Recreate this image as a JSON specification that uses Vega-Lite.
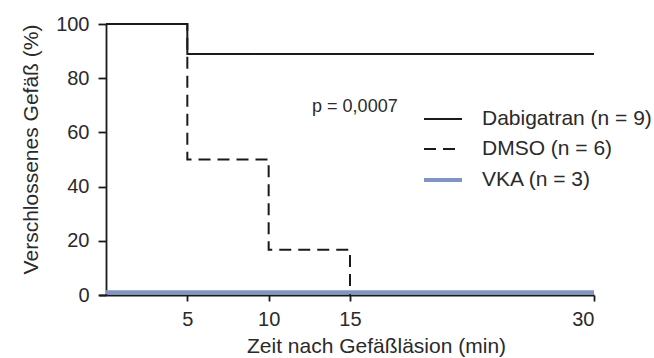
{
  "$schema": "https://vega.github.io/schema/vega-lite/v6.json",
  "autosize": {"type": "none"},
  "padding": {"left": 99, "top": 24, "right": 60, "bottom": 63},
  "width": 495,
  "height": 271,
  "config": {
    "font": "Liberation Sans",
    "view": {"stroke": null},
    "axis": {"grid": false, "domainColor": "#1a1a1a", "tickColor": "#1a1a1a", "domainWidth": 1.8, "tickWidth": 1.8, "labelColor": "#2a2a2a", "titleColor": "#2a2a2a", "labelFontSize": 20, "titleFontSize": 21, "titleFontWeight": "normal"}
  },
  "datasets": {
    "curves": [
      {"series": "Dabigatran (n = 9)", "t": 0, "pct": 100},
      {"series": "Dabigatran (n = 9)", "t": 5, "pct": 88.9},
      {"series": "Dabigatran (n = 9)", "t": 30, "pct": 88.9},
      {"series": "DMSO (n = 6)", "t": 0, "pct": 100},
      {"series": "DMSO (n = 6)", "t": 5, "pct": 50},
      {"series": "DMSO (n = 6)", "t": 10, "pct": 16.7},
      {"series": "DMSO (n = 6)", "t": 15, "pct": 0},
      {"series": "VKA (n = 3)", "t": 0, "pct": 1},
      {"series": "VKA (n = 3)", "t": 30, "pct": 1}
    ],
    "note": [{"t": 15.3, "pct": 69.5, "label": "p = 0,0007"}]
  },
  "layer": [
    {
      "data": {"name": "curves"},
      "mark": {"type": "line", "interpolate": "step-after"},
      "encoding": {
        "x": {"field": "t", "type": "quantitative", "scale": {"domain": [-0.43, 30], "nice": false, "zero": false},
          "axis": {"values": [5, 10, 15, 30], "title": "Zeit nach Gefäßläsion (min)", "tickSize": 6, "labelPadding": 8, "titleX": 277, "titleY": 57, "titleBaseline": "alphabetic", "titleAnchor": null}},
        "y": {"field": "pct", "type": "quantitative", "scale": {"domain": [0, 100], "nice": false},
          "axis": {"values": [0, 20, 40, 60, 80, 100], "title": "Verschlossenes Gefäß (%)", "tickSize": 8, "labelPadding": 9, "titlePadding": 14, "titleY": 125, "offset": -7}},
        "color": {"field": "series", "type": "nominal", "sort": ["Dabigatran (n = 9)", "DMSO (n = 6)", "VKA (n = 3)"],
          "scale": {"domain": ["Dabigatran (n = 9)", "DMSO (n = 6)", "VKA (n = 3)"], "range": ["#1a1a1a", "#1a1a1a", "#7f95c9"]},
          "legend": {"title": null, "orient": "none", "legendX": 323, "legendY": 75, "symbolType": "stroke", "symbolSize": 1444, "labelFontSize": 21, "labelColor": "#2a2a2a", "labelOffset": 18, "labelLimit": 300, "rowPadding": -5}},
        "strokeDash": {"field": "series", "type": "nominal", "sort": ["Dabigatran (n = 9)", "DMSO (n = 6)", "VKA (n = 3)"],
          "scale": {"domain": ["Dabigatran (n = 9)", "DMSO (n = 6)", "VKA (n = 3)"], "range": [[1, 0], [12, 7], [1, 0]]}},
        "strokeWidth": {"field": "series", "type": "nominal", "sort": ["Dabigatran (n = 9)", "DMSO (n = 6)", "VKA (n = 3)"],
          "scale": {"type": "ordinal", "domain": ["Dabigatran (n = 9)", "DMSO (n = 6)", "VKA (n = 3)"], "range": [2, 2, 4]}},
        "order": {"field": "t"}
      }
    },
    {
      "data": {"name": "note"},
      "mark": {"type": "text", "fontSize": 18, "color": "#2a2a2a", "font": "Liberation Sans"},
      "encoding": {
        "x": {"field": "t", "type": "quantitative"},
        "y": {"field": "pct", "type": "quantitative"},
        "text": {"field": "label"}
      }
    }
  ]
}
